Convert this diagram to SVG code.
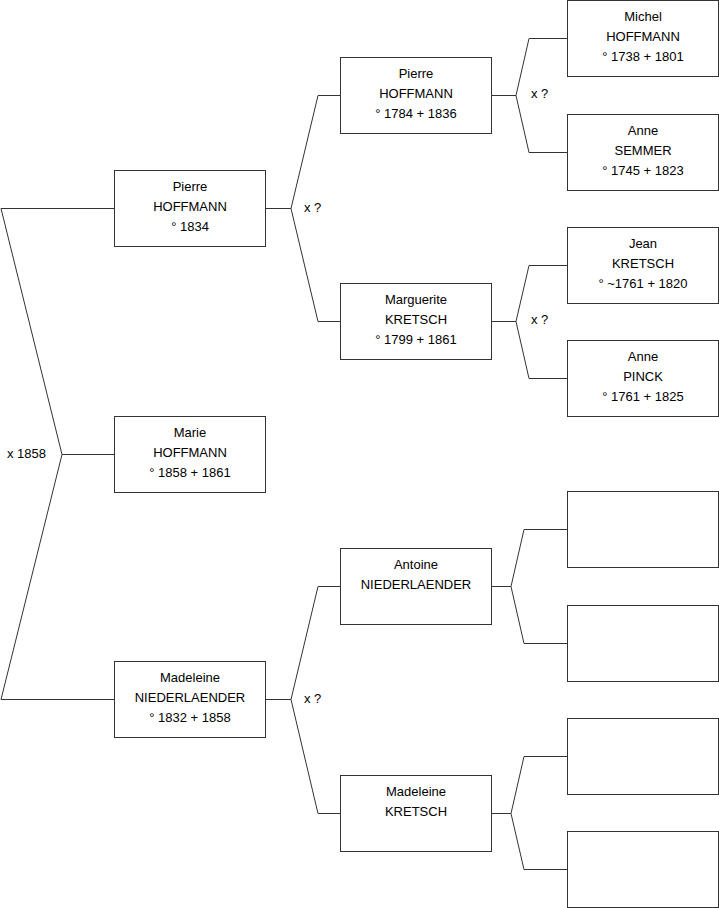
<svg xmlns="http://www.w3.org/2000/svg" width="719" height="908" viewBox="0 0 719 908">
<style>
.box{fill:#fff;stroke:#333;stroke-width:1}
.ln{fill:none;stroke:#333;stroke-width:1}
text{font-family:"Liberation Sans",Arial,sans-serif;font-size:13px;fill:#000}
.c{text-anchor:middle}
</style>
<rect width="719" height="908" fill="#fff"/>
<g id="connectors">
<polyline class="ln" points="114.5,208.5 1,208.5 62,454.5 1,699.5 114.5,699.5"/>
<line class="ln" x1="62" y1="454.5" x2="114.5" y2="454.5"/>
<line class="ln" x1="265.5" y1="208.5" x2="291" y2="208.5"/>
<polyline class="ln" points="340.5,95.5 318,95.5 291,208.5 318,321.5 340.5,321.5"/>
<line class="ln" x1="265.5" y1="699.5" x2="291" y2="699.5"/>
<polyline class="ln" points="340.5,586.5 318,586.5 291,699.5 318,813.5 340.5,813.5"/>
<line class="ln" x1="491.5" y1="95.5" x2="516" y2="95.5"/>
<polyline class="ln" points="567.5,38.5 529,38.5 516,95.5 529,152.5 567.5,152.5"/>
<line class="ln" x1="491.5" y1="321.5" x2="516" y2="321.5"/>
<polyline class="ln" points="567.5,265.5 529,265.5 516,321.5 529,378.5 567.5,378.5"/>
<line class="ln" x1="491.5" y1="586.5" x2="511" y2="586.5"/>
<polyline class="ln" points="567.5,529.5 524,529.5 511,586.5 524,643.5 567.5,643.5"/>
<line class="ln" x1="491.5" y1="813.5" x2="511" y2="813.5"/>
<polyline class="ln" points="567.5,756.5 524,756.5 511,813.5 524,869.5 567.5,869.5"/>
<text x="7" y="458">x 1858</text>
<text x="304" y="212">x ?</text>
<text x="304" y="703">x ?</text>
<text x="531" y="98">x ?</text>
<text x="531" y="324">x ?</text>
</g>
<g id="n-pierre-1834">
<rect class="box" x="114.5" y="170.5" width="151" height="76"/>
<text class="c" x="190" y="191">Pierre</text>
<text class="c" x="190" y="211">HOFFMANN</text>
<text class="c" x="190" y="231">° 1834</text>
</g>
<g id="n-marie">
<rect class="box" x="114.5" y="416.5" width="151" height="76"/>
<text class="c" x="190" y="437">Marie</text>
<text class="c" x="190" y="457">HOFFMANN</text>
<text class="c" x="190" y="477">° 1858 + 1861</text>
</g>
<g id="n-madeleine-n">
<rect class="box" x="114.5" y="661.5" width="151" height="76"/>
<text class="c" x="190" y="682">Madeleine</text>
<text class="c" x="190" y="702">NIEDERLAENDER</text>
<text class="c" x="190" y="722">° 1832 + 1858</text>
</g>
<g id="n-pierre-1784">
<rect class="box" x="340.5" y="57.5" width="151" height="76"/>
<text class="c" x="416" y="78">Pierre</text>
<text class="c" x="416" y="98">HOFFMANN</text>
<text class="c" x="416" y="118">° 1784 + 1836</text>
</g>
<g id="n-marguerite">
<rect class="box" x="340.5" y="283.5" width="151" height="76"/>
<text class="c" x="416" y="304">Marguerite</text>
<text class="c" x="416" y="324">KRETSCH</text>
<text class="c" x="416" y="344">° 1799 + 1861</text>
</g>
<g id="n-antoine">
<rect class="box" x="340.5" y="548.5" width="151" height="76"/>
<text class="c" x="416" y="569">Antoine</text>
<text class="c" x="416" y="589">NIEDERLAENDER</text>
</g>
<g id="n-madeleine-k">
<rect class="box" x="340.5" y="775.5" width="151" height="76"/>
<text class="c" x="416" y="796">Madeleine</text>
<text class="c" x="416" y="816">KRETSCH</text>
</g>
<g id="n-michel">
<rect class="box" x="567.5" y="0.5" width="151" height="76"/>
<text class="c" x="643" y="21">Michel</text>
<text class="c" x="643" y="41">HOFFMANN</text>
<text class="c" x="643" y="61">° 1738 + 1801</text>
</g>
<g id="n-anne-semmer">
<rect class="box" x="567.5" y="114.5" width="151" height="76"/>
<text class="c" x="643" y="135">Anne</text>
<text class="c" x="643" y="155">SEMMER</text>
<text class="c" x="643" y="175">° 1745 + 1823</text>
</g>
<g id="n-jean">
<rect class="box" x="567.5" y="227.5" width="151" height="76"/>
<text class="c" x="643" y="248">Jean</text>
<text class="c" x="643" y="268">KRETSCH</text>
<text class="c" x="643" y="288">° ~1761 + 1820</text>
</g>
<g id="n-anne-pinck">
<rect class="box" x="567.5" y="340.5" width="151" height="76"/>
<text class="c" x="643" y="361">Anne</text>
<text class="c" x="643" y="381">PINCK</text>
<text class="c" x="643" y="401">° 1761 + 1825</text>
</g>
<g id="n-empty-1"><rect class="box" x="567.5" y="491.5" width="151" height="76"/></g>
<g id="n-empty-2"><rect class="box" x="567.5" y="605.5" width="151" height="76"/></g>
<g id="n-empty-3"><rect class="box" x="567.5" y="718.5" width="151" height="76"/></g>
<g id="n-empty-4"><rect class="box" x="567.5" y="831.5" width="151" height="76"/></g>
</svg>
